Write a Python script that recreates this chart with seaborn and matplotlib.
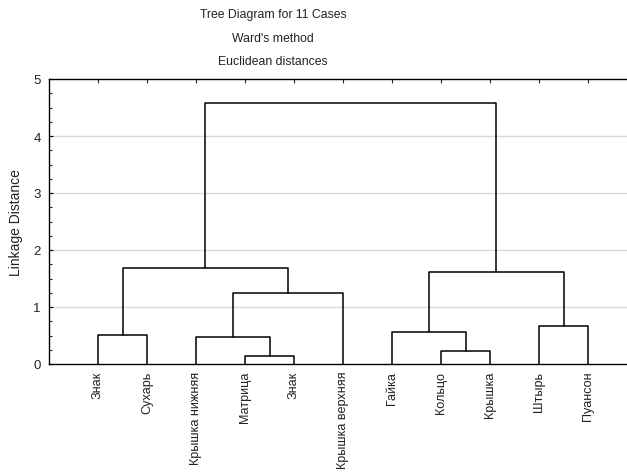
import matplotlib
matplotlib.use("Agg")
import matplotlib.pyplot as plt
from matplotlib.ticker import MultipleLocator, FixedLocator
import numpy as np
import pandas as pd
import seaborn as sns

# ---- data ----
leaf_labels = ["Знак", "Сухарь", "Крышка нижняя", "Матрица", "Знак",
               "Крышка верхняя", "Гайка", "Кольцо", "Крышка", "Штырь", "Пуансон"]
# merges (scipy-style ids: leaves 0..10, new clusters 11..)
merge_left = [3, 7, 2, 0, 6, 9, 13, 15, 14, 19]
merge_right = [4, 8, 11, 1, 12, 10, 5, 16, 17, 18]
merge_height = [0.135, 0.23, 0.48, 0.51, 0.555, 0.67, 1.24, 1.61, 1.68, 4.58]
title_lines = ["Tree Diagram for 11 Cases", "Ward's method", "Euclidean distances"]
y_label = "Linkage Distance"
y_ticks = [0, 1, 2, 3, 4, 5]

# ---- build segments from the linkage ----
n = len(leaf_labels)
xpos = {i: float(i + 1) for i in range(n)}
hgt = {i: 0.0 for i in range(n)}
rows = []
for k, (a, b, h) in enumerate(zip(merge_left, merge_right, merge_height)):
    xa, xb = xpos[a], xpos[b]
    ha, hb = hgt[a], hgt[b]
    for order, (x, y) in enumerate([(xa, ha), (xa, h), (xb, h), (xb, hb)]):
        rows.append({"link": k, "order": order, "x": x, "y": y})
    new = n + k
    xpos[new] = (xa + xb) / 2
    hgt[new] = h
df = pd.DataFrame(rows)

sns.set_theme(style="white")
plt.rcParams["font.family"] = ["Liberation Sans", "DejaVu Sans"]

fig = plt.figure(figsize=(6.27, 4.77), dpi=100)
ax = fig.add_axes([49 / 627, (477 - 365) / 477, 588 / 627, 285 / 477])

for y in y_ticks[1:-1]:
    ax.axhline(y, color="#d8d8d8", lw=1.0, zorder=0)

sns.lineplot(data=df, x="x", y="y", units="link", estimator=None, sort=False,
             color="black", lw=1.1, ax=ax, legend=False)

ax.set_xlim(0, n + 1)
ax.set_ylim(0, 5)
for s in ["left", "bottom", "top", "right"]:
    ax.spines[s].set_visible(True)
    ax.spines[s].set_color("black")
    ax.spines[s].set_linewidth(1.0)

ax.yaxis.set_major_locator(FixedLocator(y_ticks))
ax.yaxis.set_minor_locator(MultipleLocator(0.25))
ax.tick_params(axis="y", which="major", direction="in", length=3, width=0.8,
               left=True, labelsize=9.5, pad=6, colors="black")
ax.tick_params(axis="y", which="minor", direction="in", length=2, width=0.8, left=True)
ax.set_yticklabels([str(t) for t in y_ticks], color="#222222")

ax.set_xticks([xpos[i] for i in range(n)])
ax.tick_params(axis="x", which="major", direction="in", length=3, width=0.8,
               top=True, bottom=False, labelbottom=False)
for i, lab in enumerate(leaf_labels):
    ax.text(xpos[i], -0.12, lab, rotation=90, ha="center", va="top",
            fontsize=9.1, color="#222222", transform=ax.transData, clip_on=False)

ax.set_xlabel("")
ax.set_ylabel(y_label, fontsize=10, color="#222222", labelpad=7)

for j, t in enumerate(title_lines):
    fig.text(273 / 627, 1 - (15 + 23.5 * j) / 477, t, ha="center", va="center",
             fontsize=8.8, color="#222222")

fig.savefig("out.png", dpi=100)
